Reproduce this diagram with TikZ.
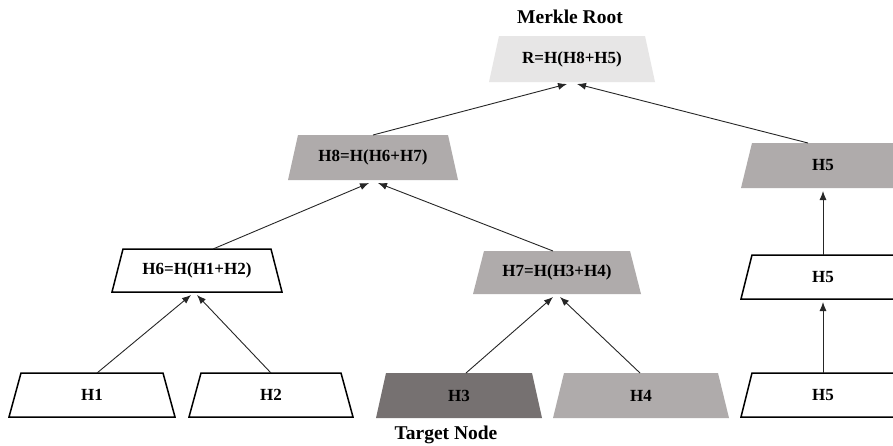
\documentclass[tikz,border=0pt]{standalone}
\usepackage{fontspec}
\setmainfont{Liberation Serif}
\usetikzlibrary{arrows.meta}
\definecolor{rootfill}{HTML}{E7E6E6}
\definecolor{midfill}{HTML}{AFABAB}
\definecolor{darkfill}{HTML}{767171}
\tikzset{
  lbl/.style={inner sep=0pt, font=\fontsize{17}{20}\selectfont\bfseries, text=black},
  ttl/.style={inner sep=0pt, font=\fontsize{19.5}{22}\selectfont\bfseries, text=black},
  whitebox/.style={fill=white, draw=black, line width=1.5pt},
  lightbox/.style={fill=rootfill},
  graybox/.style={fill=midfill},
  darkbox/.style={fill=darkfill},
  conn/.style={draw=black!85, line width=0.9pt, -{Latex[length=9pt,width=7pt]}}
}
% #1 name, #2 cx, #3 ytop, #4 ybot, #5 top half width, #6 bottom half width, #7 style, #8 text
\newcommand{\trapbox}[8]{%
  \path[#7] ({#2-#5},{-#3}) -- ({#2+#5},{-#3}) -- ({#2+#6},{-#4}) -- ({#2-#6},{-#4}) -- cycle;
  \node[lbl] (#1) at (#2,{-(#3+#4)/2}) {#8};
  \coordinate (#1-t) at (#2,{-#3});
  \coordinate (#1-b) at (#2,{-#4});
}
\begin{document}
\begin{tikzpicture}[x=1pt,y=1pt]
\useasboundingbox (0,0) rectangle (893,-445);
\clip (0,0) rectangle (893,-445);
\fill[white] (0,0) rectangle (893,-445);

\node[ttl] (title) at (570,-17) {Merkle Root};
\node[ttl] (target) at (446,-435) {Target Node};

\trapbox{R}{572}{36}{82}{73}{83}{lightbox}{R=H(H8+H5)}
\trapbox{H8}{373}{135}{180}{75}{85}{graybox}{H8=H(H6+H7)}
\trapbox{H5a}{823}{143}{188}{71}{82}{graybox}{H5}
\trapbox{H6}{197}{249}{292}{74}{85}{whitebox}{H6=H(H1+H2)}
\trapbox{H7}{557}{251}{294}{73}{84}{graybox}{H7=H(H3+H4)}
\trapbox{H5b}{823}{255}{299}{71}{82}{whitebox}{H5}
\trapbox{H1}{92}{373}{417}{71}{83}{whitebox}{H1}
\trapbox{H2}{271}{373}{417}{70}{82}{whitebox}{H2}
\trapbox{H3}{459}{373}{418}{73}{83}{darkbox}{H3}
\trapbox{H4}{641}{373}{418}{77}{88}{graybox}{H4}
\trapbox{H5c}{823}{373}{417}{71}{82}{whitebox}{H5}

\draw[conn] ([xshift=5pt]H1-t) -- ([xshift=-6pt,yshift=-3pt]H6-b);
\draw[conn] ([xshift=0pt]H2-t) -- ([xshift=0pt,yshift=-3pt]H6-b);
\draw[conn] ([xshift=7pt]H3-t) -- ([xshift=-4pt,yshift=-3pt]H7-b);
\draw[conn] ([xshift=-1pt]H4-t) -- ([xshift=3pt,yshift=-3pt]H7-b);
\draw[conn] ([xshift=16pt]H6-t) -- ([xshift=-4pt,yshift=-3pt]H8-b);
\draw[conn] ([xshift=-4pt]H7-t) -- ([xshift=5pt,yshift=-3pt]H8-b);
\draw[conn] (H8-t) -- ([xshift=-5pt,yshift=-2pt]R-b);
\draw[conn] ([xshift=-15pt]H5a-t) -- ([xshift=5pt,yshift=-2pt]R-b);
\draw[conn] (H5b-t) -- ([yshift=-3pt]H5a-b);
\draw[conn] (H5c-t) -- ([yshift=-3pt]H5b-b);
\end{tikzpicture}
\end{document}
